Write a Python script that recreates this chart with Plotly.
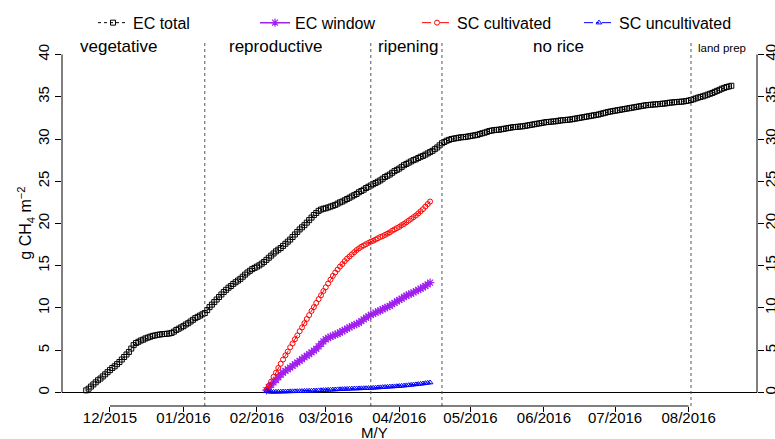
import pandas as pd
import plotly.graph_objects as go

# ---------------- data ----------------
ec_total_start = "2015-11-21"
ec_total = [
    0.25, 0.45, 0.7, 0.95, 1.2, 1.45, 1.65, 1.9, 2.15, 2.4,
    2.65, 2.9, 3.1, 3.35, 3.6, 3.9, 4.2, 4.5, 4.8, 5.2,
    5.6, 5.85, 6.0, 6.15, 6.25, 6.4, 6.5, 6.6, 6.7, 6.75,
    6.82, 6.86, 6.9, 6.92, 6.95, 6.98, 7.05, 7.2, 7.4, 7.55,
    7.7, 7.85, 8.05, 8.2, 8.4, 8.6, 8.8, 8.95, 9.1, 9.25,
    9.4, 9.75, 10.1, 10.4, 10.7, 11.0, 11.3, 11.6, 11.9, 12.15,
    12.4, 12.6, 12.85, 13.05, 13.25, 13.45, 13.7, 13.95, 14.2, 14.4,
    14.6, 14.75, 14.9, 15.05, 15.25, 15.45, 15.7, 15.95, 16.2, 16.45,
    16.7, 16.9, 17.1, 17.35, 17.6, 17.85, 18.1, 18.4, 18.7, 19.0,
    19.3, 19.55, 19.8, 20.1, 20.4, 20.7, 21.0, 21.25, 21.5, 21.65,
    21.75, 21.8, 21.9, 22.0, 22.1, 22.2, 22.35, 22.5, 22.6, 22.75,
    22.9, 23.05, 23.2, 23.35, 23.5, 23.7, 23.85, 24.0, 24.2, 24.35,
    24.5, 24.65, 24.8, 24.95, 25.1, 25.3, 25.5, 25.65, 25.8, 26.0,
    26.2, 26.35, 26.5, 26.7, 26.9, 27.05, 27.2, 27.35, 27.5, 27.6,
    27.75, 27.9, 28.0, 28.15, 28.3, 28.45, 28.6, 28.8, 29.0, 29.25,
    29.5, 29.65, 29.8, 29.9, 30.0, 30.05, 30.1, 30.15, 30.2, 30.22,
    30.25, 30.3, 30.35, 30.4, 30.45, 30.5, 30.6, 30.68, 30.75, 30.85,
    30.95, 31.0, 31.05, 31.08, 31.1, 31.15, 31.2, 31.25, 31.3, 31.35,
    31.4, 31.42, 31.45, 31.48, 31.5, 31.55, 31.6, 31.65, 31.7, 31.75,
    31.8, 31.85, 31.9, 31.95, 32.0, 32.02, 32.05, 32.08, 32.1, 32.15,
    32.2, 32.22, 32.25, 32.28, 32.3, 32.35, 32.4, 32.45, 32.5, 32.55,
    32.6, 32.65, 32.7, 32.75, 32.8, 32.85, 32.9, 32.98, 33.05, 33.12,
    33.2, 33.25, 33.3, 33.35, 33.4, 33.45, 33.5, 33.55, 33.6, 33.65,
    33.7, 33.75, 33.8, 33.85, 33.9, 33.95, 34.0, 34.02, 34.05, 34.08,
    34.1, 34.12, 34.15, 34.18, 34.2, 34.25, 34.3, 34.32, 34.35, 34.38,
    34.4, 34.42, 34.45, 34.5, 34.55, 34.62, 34.7, 34.8, 34.9, 34.98,
    35.05, 35.15, 35.25, 35.35, 35.45, 35.58, 35.7, 35.82, 35.95, 36.05,
    36.15, 36.22, 36.3,
]

sc_start = "2016-02-05"
ec_window = [
    0.27, 0.6, 0.9, 1.2, 1.5, 1.8, 2.1, 2.35, 2.55, 2.75,
    2.95, 3.15, 3.35, 3.55, 3.75, 3.95, 4.15, 4.35, 4.55, 4.75,
    4.95, 5.15, 5.45, 5.75, 6.05, 6.3, 6.45, 6.6, 6.7, 6.85,
    6.95, 7.1, 7.25, 7.4, 7.55, 7.7, 7.85, 8.0, 8.1, 8.25,
    8.45, 8.65, 8.85, 9.0, 9.2, 9.3, 9.45, 9.6, 9.7, 9.85,
    10.0, 10.1, 10.25, 10.45, 10.6, 10.8, 10.95, 11.1, 11.3, 11.45,
    11.6, 11.7, 11.85, 12.0, 12.15, 12.3, 12.45, 12.6, 12.8, 13.0,
]
sc_cultivated = [
    0.27, 0.8, 1.3, 1.85, 2.35, 2.9, 3.4, 3.9, 4.4, 4.85,
    5.35, 5.8, 6.3, 6.75, 7.25, 7.7, 8.2, 8.7, 9.15, 9.65,
    10.1, 10.6, 11.05, 11.5, 12.0, 12.45, 12.9, 13.35, 13.8, 14.2,
    14.55, 14.9, 15.2, 15.55, 15.85, 16.1, 16.35, 16.6, 16.85, 17.05,
    17.25, 17.4, 17.55, 17.7, 17.85, 17.95, 18.1, 18.25, 18.4, 18.5,
    18.65, 18.8, 18.95, 19.15, 19.3, 19.45, 19.6, 19.8, 19.95, 20.15,
    20.35, 20.55, 20.75, 20.95, 21.2, 21.45, 21.7, 22.0, 22.3, 22.6,
]
sc_uncultivated = [
    0.15, 0.1, 0.08, 0.08, 0.08, 0.09, 0.1, 0.1, 0.11, 0.12,
    0.13, 0.14, 0.14, 0.15, 0.16, 0.17, 0.18, 0.19, 0.2, 0.21,
    0.22, 0.23, 0.25, 0.26, 0.28, 0.29, 0.31, 0.32, 0.34, 0.35,
    0.37, 0.38, 0.4, 0.41, 0.42, 0.44, 0.45, 0.46, 0.47, 0.48,
    0.49, 0.5, 0.51, 0.52, 0.53, 0.55, 0.57, 0.59, 0.61, 0.63,
    0.65, 0.67, 0.69, 0.7, 0.72, 0.74, 0.76, 0.79, 0.81, 0.84,
    0.87, 0.9, 0.93, 0.96, 0.99, 1.02, 1.06, 1.1, 1.14, 1.18,
]

phase_bounds = ["2016-01-10", "2016-03-20", "2016-04-19", "2016-08-02"]
phase_labels = ["vegetative", "reproductive", "ripening", "no rice", "land prep"]
phase_label_dates = ["2015-12-05", "2016-02-09", "2016-04-05", "2016-06-07", "2016-08-15"]

tick_dates = ["2015-12-01", "2016-01-01", "2016-02-01", "2016-03-01", "2016-04-01",
              "2016-05-01", "2016-06-01", "2016-07-01", "2016-08-01"]
tick_text = ["12/2015", "01/2016", "02/2016", "03/2016", "04/2016",
             "05/2016", "06/2016", "07/2016", "08/2016"]
y_ticks = [0, 5, 10, 15, 20, 25, 30, 35, 40]

# ---------------- figure ----------------
x_total = pd.date_range(ec_total_start, periods=len(ec_total), freq="D")
x_sc = pd.date_range(sc_start, periods=len(sc_cultivated), freq="D")

FONT = "Liberation Sans, Arial, sans-serif"
PURPLE = "#A020F0"

fig = go.Figure()
fig.add_trace(go.Scatter(
    x=x_total, y=ec_total, name="EC total", mode="lines+markers",
    line=dict(color="black", width=1, dash="dot"),
    marker=dict(symbol="square-open", size=5, color="black", line=dict(width=1)),
))
fig.add_trace(go.Scatter(
    x=x_sc, y=ec_window, name="EC window", mode="lines+markers",
    line=dict(color=PURPLE, width=1.5),
    marker=dict(symbol="asterisk-open", size=7, color=PURPLE, line=dict(width=1.2, color=PURPLE)),
))
fig.add_trace(go.Scatter(
    x=x_sc, y=sc_cultivated, name="SC cultivated", mode="lines+markers",
    line=dict(color="red", width=1, dash="dash"),
    marker=dict(symbol="circle-open", size=5, color="red", line=dict(width=1)),
))
fig.add_trace(go.Scatter(
    x=x_sc, y=sc_uncultivated, name="SC uncultivated", mode="lines+markers",
    line=dict(color="blue", width=1, dash="dashdot"),
    marker=dict(symbol="triangle-up-open", size=5, color="blue", line=dict(width=1)),
))
# invisible carrier for right-hand axis
fig.add_trace(go.Scatter(
    x=x_total, y=ec_total, yaxis="y2", mode="markers", opacity=0,
    showlegend=False, hoverinfo="skip",
))

shapes = []
for d in phase_bounds:
    shapes.append(dict(type="line", xref="x", yref="paper", x0=d, x1=d, y0=0, y1=1,
                       line=dict(color="#555555", width=1, dash="dot")))
# R-style axis lines spanning first to last tick
shapes.append(dict(type="line", xref="x", yref="paper", x0=tick_dates[0], x1=tick_dates[-1],
                   y0=0, y1=0, line=dict(color="black", width=1)))
shapes.append(dict(type="line", xref="paper", yref="y", x0=0, x1=0,
                   y0=y_ticks[0], y1=y_ticks[-1], line=dict(color="black", width=1)))
shapes.append(dict(type="line", xref="paper", yref="y", x0=1, x1=1,
                   y0=y_ticks[0], y1=y_ticks[-1], line=dict(color="black", width=1)))

annotations = []
for lab, d in zip(phase_labels, phase_label_dates):
    small = lab == "land prep"
    annotations.append(dict(x=d, y=0.982 if small else 0.985, xref="x", yref="paper", text=lab,
                            showarrow=False, xanchor="center", yanchor="middle",
                            font=dict(size=11.5 if small else 17, color="black", family=FONT)))
annotations.append(dict(x=-0.053, y=0.5, xref="paper", yref="paper",
                        text="g CH<sub>4</sub> m<sup>\u22122</sup>", textangle=-90,
                        xanchor="center", yanchor="middle",
                        showarrow=False, font=dict(size=16, color="black", family=FONT)))
annotations.append(dict(x=0.45, y=-0.072, xref="paper", yref="paper", text="M/Y",
                        showarrow=False, yanchor="middle", xanchor="center",
                        font=dict(size=15, color="black", family=FONT)))

fig.update_layout(
    width=775, height=439,
    margin=dict(l=62, r=18, t=41, b=33, autoexpand=False),
    paper_bgcolor="white", plot_bgcolor="white",
    font=dict(family=FONT, size=15, color="black"),
    showlegend=True,
    legend=dict(orientation="h", x=0.0446, y=1.05, xanchor="left", yanchor="middle",
                font=dict(size=16), entrywidth=117, entrywidthmode="pixels",
                bgcolor="rgba(0,0,0,0)", itemwidth=30),
    xaxis=dict(type="date", range=["2015-11-10 19:00", "2016-08-29 20:00"],
               tickvals=tick_dates, ticktext=tick_text, ticks="outside", ticklen=5,
               tickcolor="black", showgrid=False, zeroline=False, showline=False,
               tickfont=dict(size=15), automargin=False, ticklabelstandoff=-7),
    yaxis=dict(range=[-1.6, 41.6], tickvals=y_ticks, ticks="outside", ticklen=6,
               tickcolor="black", tickangle=-90, showgrid=False, showline=False,
               zeroline=True, zerolinecolor="black", zerolinewidth=1,
               tickfont=dict(size=15), automargin=False),
    yaxis2=dict(range=[-1.6, 41.6], tickvals=y_ticks, ticks="outside", ticklen=6,
                tickcolor="black", tickangle=-90, overlaying="y", side="right",
                showgrid=False, showline=False, zeroline=False, tickfont=dict(size=15),
                automargin=False, ticklabelstandoff=-6),
    shapes=shapes, annotations=annotations,
)

fig.write_html("out.html", config={"displayModeBar": False},
               post_script="document.body.style.margin='0';")
